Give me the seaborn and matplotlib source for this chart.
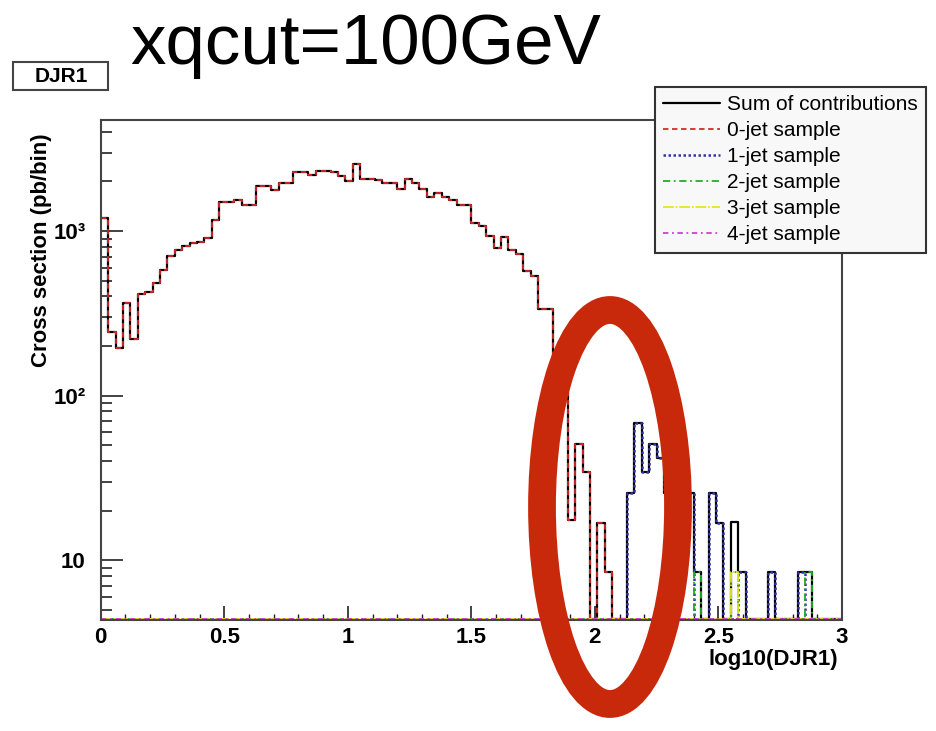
import numpy as np
import pandas as pd
import matplotlib
matplotlib.use('Agg')
import matplotlib.pyplot as plt
import seaborn as sns
from matplotlib.patches import Ellipse, Rectangle
from matplotlib.ticker import MultipleLocator, LogLocator, NullFormatter

sns.set_style('ticks')
plt.rcParams['font.family'] = ['Liberation Sans', 'DejaVu Sans']
plt.rcParams['text.color'] = 'black'
plt.rcParams['axes.labelcolor'] = 'black'

# 100 bins of 0.03 in log10(DJR1), from 0 to 3
n_bins = 100
x_min, x_max = 0.0, 3.0

# 0-jet sample, bins 0..68 (later bins empty)
xsec_0jet = [1195, 244, 194, 363, 220, 414, 428, 485, 579, 705,
             767, 815, 849, 862, 903, 1166, 1504, 1504, 1543, 1437,
             1437, 1877, 1877, 1775, 1966, 1966, 2293, 2293, 2190, 2326,
             2326, 2280, 2160, 2020, 2553, 2060, 2060, 2040, 1960, 1950,
             1810, 2060, 1950, 1790, 1617, 1696, 1617, 1543, 1437, 1437,
             1123, 1072, 932, 785, 923, 767, 725, 574, 532, 334,
             334, 150, 120, 17.5, 51, 34.4, 0, 16.9, 8.5]

# 1-jet sample (sparse: bin index -> cross section)
bins_1jet = [71, 72, 73, 74, 75, 76, 77, 78, 79, 82, 83, 86, 90, 94]
xsec_1jet = [25.4, 68.4, 34.4, 51, 42, 25.4, 25.4, 25.4, 25.4, 25.4, 16.9, 8.5, 8.5, 8.5]

# 2-jet sample
bins_2jet = [80, 85, 95]
xsec_2jet = [8.5, 8.5, 8.5]

# 3-jet sample
bins_3jet = [85]
xsec_3jet = [8.5]

# 4-jet sample: no entries in range
bins_4jet = []
xsec_4jet = []

y_lo, y_hi = 4.32, 4730


def fill_bins(idx, vals):
    arr = np.zeros(n_bins)
    arr[idx] = vals
    return arr


edges = np.linspace(x_min, x_max, n_bins + 1)
centers = 0.5 * (edges[:-1] + edges[1:])

h0 = np.zeros(n_bins)
h0[:len(xsec_0jet)] = xsec_0jet
h1 = fill_bins(bins_1jet, xsec_1jet)
h2 = fill_bins(bins_2jet, xsec_2jet)
h3 = fill_bins(bins_3jet, xsec_3jet)
h4 = fill_bins(bins_4jet, xsec_4jet)
h_sum = h0 + h1 + h2 + h3 + h4

samples = [
    ('Sum of contributions', h_sum, 'black', '-', 1.6),
    ('0-jet sample', h0, '#d42a2a', (0, (3, 2)), 1.3),
    ('1-jet sample', h1, '#3434a8', (0, (1, 1)), 1.8),
    ('2-jet sample', h2, '#22b022', (0, (4, 2, 1, 2)), 1.3),
    ('3-jet sample', h3, '#e6e61a', (0, (6, 1, 1, 1)), 1.3),
    ('4-jet sample', h4, '#d63cd6', (0, (3, 2, 1, 2)), 1.3),
]

fig = plt.figure(figsize=(9.37, 7.31), dpi=100)
ax = fig.add_axes([100.7 / 937, 1 - 620 / 731, 741.3 / 937, 500 / 731])

handles = []
for label, vals, color, ls, lw in samples:
    # empty bins are drawn on the bottom of the frame, like ROOT does
    shown = np.where(vals > 0, vals, y_lo * 1.02)
    df = pd.DataFrame({'log10(DJR1)': centers, 'xsec': shown})
    sns.histplot(data=df, x='log10(DJR1)', weights='xsec', bins=n_bins,
                 binrange=(x_min, x_max), element='step', fill=False,
                 color=color, linestyle=ls, linewidth=lw, ax=ax)
    handles.append(ax.lines[-1])

ax.set_yscale('log')
ax.set_xlim(x_min, x_max)
ax.set_ylim(y_lo, y_hi)

ax.xaxis.set_minor_locator(MultipleLocator(0.1))
ax.set_xticks([0, 0.5, 1, 1.5, 2, 2.5, 3], labels=['0', '0.5', '1', '1.5', '2', '2.5', '3'])
ax.set_yticks([10, 100, 1000], labels=['10', '10²', '10³'])
ax.yaxis.set_minor_locator(LogLocator(base=10, subs=np.arange(2, 10)))
ax.yaxis.set_minor_formatter(NullFormatter())

ax.tick_params(axis='y', which='major', direction='in', length=16, width=1.2,
               labelsize=16, pad=11, color='#222222', labelcolor='black')
ax.tick_params(axis='y', which='minor', direction='in', length=8, width=1.2, color='#222222')
ax.tick_params(axis='x', which='major', direction='in', length=10, width=1.2,
               labelsize=16, pad=5, color='#222222', labelcolor='black')
ax.tick_params(axis='x', which='minor', direction='in', length=4.5, width=1.0, color='#222222')
for lab in ax.get_xticklabels() + ax.get_yticklabels():
    lab.set_fontweight('bold')

for sp in ax.spines.values():
    sp.set_visible(True)
    sp.set_color('#444444')
    sp.set_linewidth(1.5)

ax.set_xlabel('log10(DJR1)', fontsize=16, fontweight='bold', ha='right')
ax.xaxis.set_label_coords(0.9946, -0.058)
ax.set_ylabel('Cross section (pb/bin)', fontsize=16, fontweight='bold', ha='center')
ax.yaxis.set_label_coords(-0.066, 0.74)

# legend box on the top right
leg = fig.legend(handles, [s[0] for s in samples], loc='upper left',
                 bbox_to_anchor=(655 / 937, 1 - 87 / 731), bbox_transform=fig.transFigure,
                 borderaxespad=0, fontsize=15, frameon=True, fancybox=False,
                 edgecolor='#333333', facecolor='#f8f8f8', framealpha=1,
                 handlelength=2.7, handletextpad=0.35, labelspacing=0.335, borderpad=0.4)
leg.get_frame().set_linewidth(1.5)

# histogram name box and title
fig.patches.append(Rectangle((13 / 937, 1 - 90 / 731), 95 / 937, 28 / 731,
                             transform=fig.transFigure, fc='white', ec='#444444', lw=1.5))
fig.text(61 / 937, 1 - 76 / 731, 'DJR1', ha='center', va='center',
         fontsize=15, fontweight='bold')
fig.text(130 / 937, 1 - 64 / 731, 'xqcut=100GeV', ha='left', va='baseline', fontsize=51)

# red hand-drawn ellipse around the transition region
fig.patches.append(Ellipse((610 / 937, 1 - 507 / 731), 136 / 937, 394 / 731,
                           transform=fig.transFigure, fill=False,
                           ec='#c9290b', lw=20, zorder=10))

fig.savefig('out.png', dpi=100)
